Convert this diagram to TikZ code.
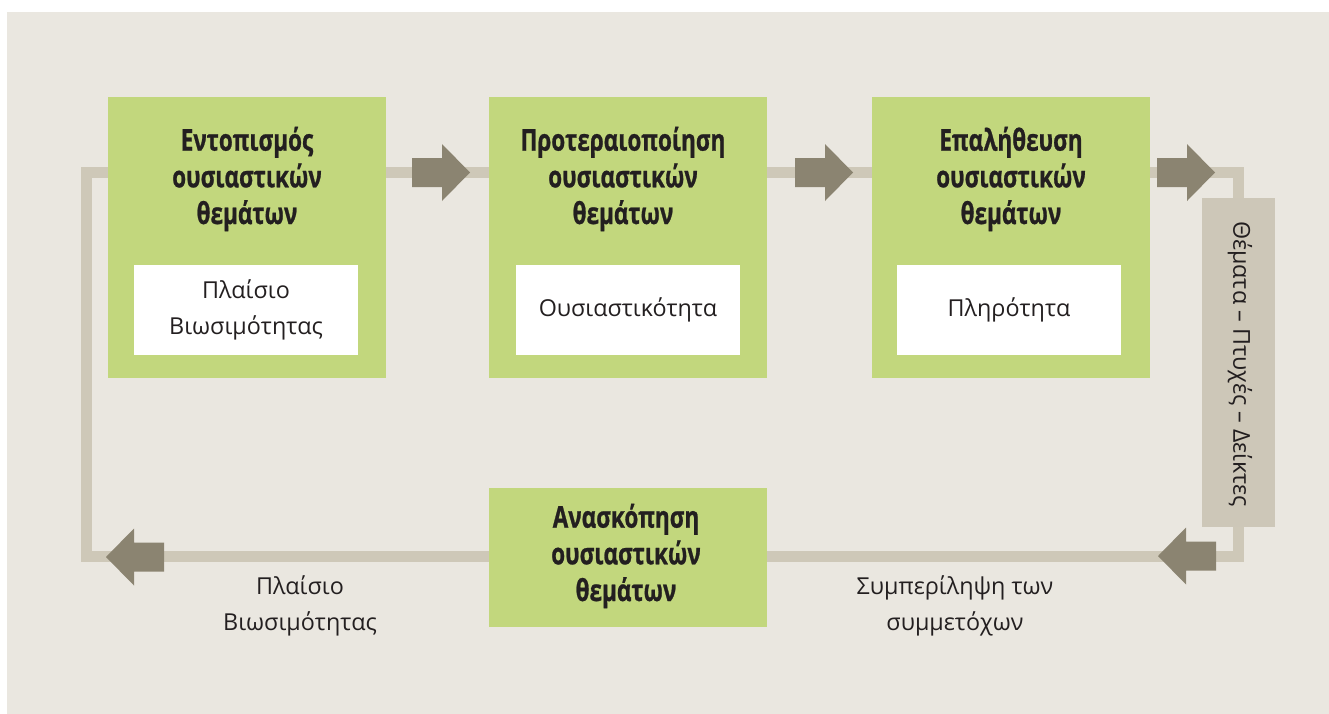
\documentclass[tikz,border=0pt]{standalone}
\usepackage{fontspec}
\setmainfont{Open Sans}
\newfontfamily\titlefont[FakeStretch=0.75,FakeBold=0.8]{Open Sans}
\definecolor{bgc}{HTML}{EAE7E0}
\definecolor{greenc}{HTML}{C2D77D}
\definecolor{linec}{HTML}{CEC8B8}
\definecolor{arrowc}{HTML}{8B8471}
\definecolor{grayc}{HTML}{CDC7B8}
\definecolor{txtc}{HTML}{231F20}
\newcommand\arrR[3]{\fill[arrowc] (#2,#3) coordinate (#1) ++(-58,-14.5) -- ++(30,0) -- ++(0,-14) -- ++(28,28.5) -- ++(-28,28.5) -- ++(0,-14) -- ++(-30,0) -- cycle;}
\newcommand\arrL[3]{\fill[arrowc] (#2,#3) coordinate (#1) ++(58,-14.5) -- ++(-30,0) -- ++(0,-14) -- ++(-28,28.5) -- ++(28,28.5) -- ++(0,-14) -- ++(30,0) -- cycle;}
\tikzset{
  greenbox/.style={fill=greenc, draw=none, minimum width=208.5pt, inner sep=0pt},
  whitebox/.style={fill=white, draw=none, minimum width=168pt, minimum height=67.5pt, inner sep=0pt},
  title/.style={align=center, inner sep=0pt, text=txtc, font=\titlefont\bfseries\fontsize{22.5}{27.5}\selectfont},
  body/.style={align=center, inner sep=0pt, text=txtc, font=\fontsize{17.5}{27.5}\selectfont},
  loopline/.style={draw=linec, line width=8.25pt}
}
\begin{document}
\begin{tikzpicture}[x=0.75pt, y=-0.75pt]
\useasboundingbox (0,0) rectangle (1329,714);
\fill[bgc] (7,12) rectangle (1329,714);
% loop connector
\coordinate (c1) at (86.5,172.5);
\coordinate (c2) at (1238,172.5);
\coordinate (c3) at (1238,556);
\coordinate (c4) at (86.5,556);
\draw[loopline] (c1) -- (c2) -- (c3) -- (c4) -- cycle;
% boxes
\node[greenbox, minimum height=210.75pt] (b1) at (247,237.5) {};
\node[greenbox, minimum height=210.75pt] (b2) at (628,237.5) {};
\node[greenbox, minimum height=210.75pt] (b3) at (1011,237.5) {};
\node[greenbox, minimum height=104.25pt] (b4) at (628,557.5) {};
\node[fill=grayc, minimum width=54.75pt, minimum height=246.75pt, inner sep=0pt] (g) at (1238.5,362.5) {};
\node[whitebox] (w1) at (246,310) {};
\node[whitebox] (w2) at (628,310) {};
\node[whitebox] (w3) at (1009,310) {};
% titles
\node[title] (t1) at (247,179) {Εντοπισμός\\ουσιαστικών\\θεμάτων};
\node[title] (t2) at (623,179) {Προτεραιοποίηση\\ουσιαστικών\\θεμάτων};
\node[title] (t3) at (1011,179) {Επαλήθευση\\ουσιαστικών\\θεμάτων};
\node[title] (t4) at (626,556) {Ανασκόπηση\\ουσιαστικών\\θεμάτων};
% white box texts
\node[body] at (w1) {Πλαίσιο\\Βιωσιμότητας};
\node[body] at (w2) {Ουσιαστικότητα};
\node[body] at (w3) {Πληρότητα};
% side label
\node[body, rotate=-90] at (1240,364) {Θέματα – Πτυχές – Δείκτες};
% bottom labels
\node[body] (l1) at (300,606) {Πλαίσιο\\Βιωσιμότητας};
\node[body] (l2) at (955,606) {Συμπερίληψη των\\συμμετόχων};
% arrows
\arrR{a1}{470}{172.5}
\arrR{a2}{853}{172.5}
\arrR{a3}{1215}{172.5}
\arrL{a4}{1158}{556}
\arrL{a5}{106}{557}
\end{tikzpicture}
\end{document}
